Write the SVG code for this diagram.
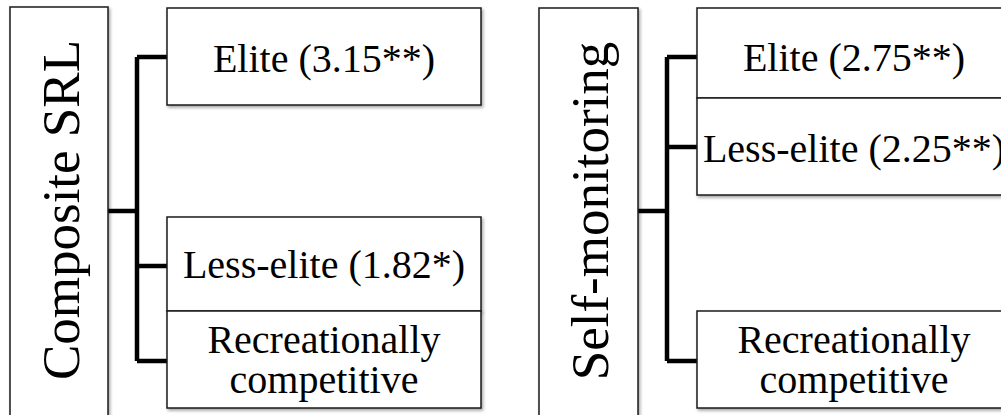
<svg xmlns="http://www.w3.org/2000/svg" width="1001" height="415" viewBox="0 0 1001 415">
<style>
.box{fill:#fff;stroke:#1a1a1a;stroke-width:1.5;filter:url(#sh)}
.t{font-family:'Liberation Serif','DejaVu Serif',serif;fill:#000;text-anchor:middle}
.lab{font-size:40px}
.root{font-size:53px}
.con{fill:none;stroke:#000;stroke-width:4.5;stroke-linejoin:miter}
</style>
<defs>
<filter id="sh" x="-5%" y="-5%" width="115%" height="120%">
<feDropShadow dx="1.5" dy="2" stdDeviation="1.5" flood-color="#000" flood-opacity="0.35"/>
</filter>
</defs>
<g id="connectors">
<path class="con" d="M108,211 H137 M137,57 V361 M137,57 H167 M137,266 H167 M137,361 H167"/>
<path class="con" d="M638,211 H667 M667,57 V361 M667,57 H697 M667,147 H697 M667,361 H697"/>
</g>
<g id="root-composite">
<rect class="box" x="10" y="7" width="98" height="420"/>
<text class="t root" font-family="Liberation Serif, DejaVu Serif, serif" transform="translate(79,210) rotate(-90)">Composite SRL</text>
</g>
<g id="c-elite">
<rect class="box" x="167" y="8" width="314" height="97"/>
<text class="t lab" font-family="Liberation Serif, DejaVu Serif, serif" x="324" y="72">Elite (3.15**)</text>
</g>
<g id="c-less">
<rect class="box" x="167" y="217" width="314" height="94"/>
<text class="t lab" font-family="Liberation Serif, DejaVu Serif, serif" x="324" y="278">Less-elite (1.82*)</text>
</g>
<g id="c-rec">
<rect class="box" x="167" y="311" width="314" height="97"/>
<text class="t lab" font-family="Liberation Serif, DejaVu Serif, serif" x="324" y="353">Recreationally</text>
<text class="t lab" font-family="Liberation Serif, DejaVu Serif, serif" x="324" y="393">competitive</text>
</g>
<g id="root-self">
<rect class="box" x="539" y="8" width="99" height="420"/>
<text class="t root" font-family="Liberation Serif, DejaVu Serif, serif" transform="translate(608,211) rotate(-90)">Self-monitoring</text>
</g>
<g id="s-elite">
<rect class="box" x="697" y="8" width="314" height="90"/>
<text class="t lab" font-family="Liberation Serif, DejaVu Serif, serif" x="854" y="71">Elite (2.75**)</text>
</g>
<g id="s-less">
<rect class="box" x="697" y="98" width="314" height="97"/>
<text class="t lab" font-family="Liberation Serif, DejaVu Serif, serif" x="854" y="162">Less-elite (2.25**)</text>
</g>
<g id="s-rec">
<rect class="box" x="697" y="311" width="314" height="97"/>
<text class="t lab" font-family="Liberation Serif, DejaVu Serif, serif" x="854" y="353">Recreationally</text>
<text class="t lab" font-family="Liberation Serif, DejaVu Serif, serif" x="854" y="393">competitive</text>
</g>
</svg>
